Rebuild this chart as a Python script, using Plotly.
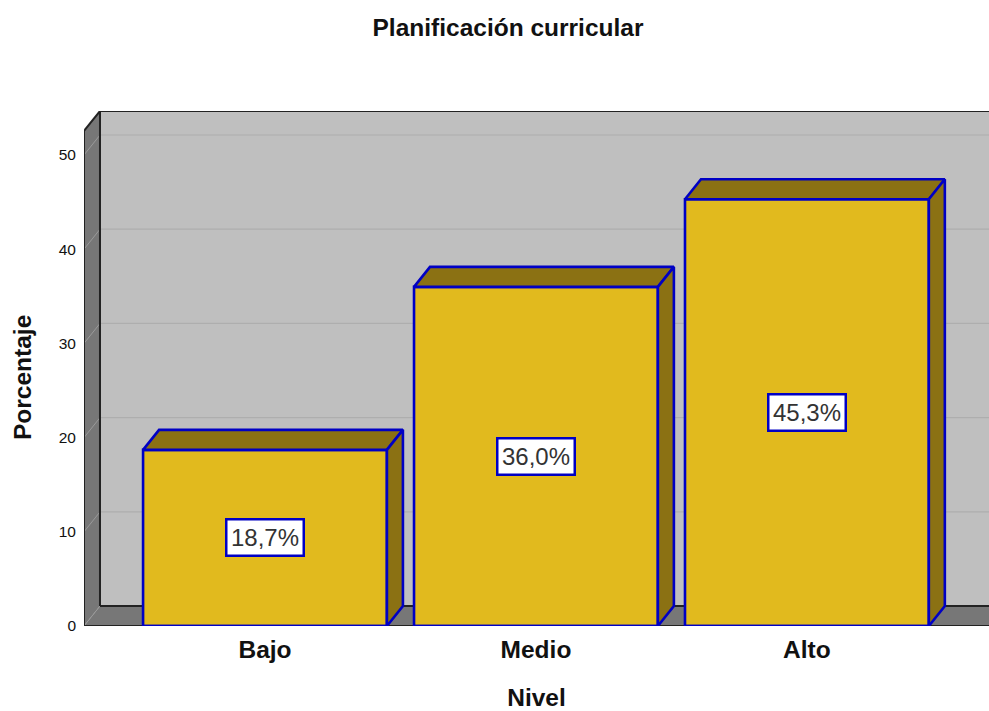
import plotly.graph_objects as go

categories = ["Bajo", "Medio", "Alto"]
values = [18.7, 36.0, 45.3]
labels = ["18,7%", "36,0%", "45,3%"]
y_ticks = [0, 10, 20, 30, 40, 50]

FONT = "Liberation Sans"
BLUE = "#0000C4"
FRONT = "#E1BA1E"
DARK_FACE = "#8B7113"
WALL = "#BFBFBF"
SIDE = "#777777"
EDGE = "#222222"
GRID = "#AEAEAE"

x_pos = list(range(len(categories)))
bar_w = 0.9
dx = 0.059
dy = 2.12
x_min, x_max = -0.668, 2.672
y_max = 54.67
wall_top = y_max
front_top = y_max - dy

fig = go.Figure()

fig.add_trace(go.Bar(x=x_pos, y=values, width=bar_w,
                     marker=dict(color=FRONT, line=dict(color=BLUE, width=2.6)),
                     hoverinfo="skip", cliponaxis=False, showlegend=False))

for x, v in zip(x_pos, values):
    l, r = x - bar_w / 2, x + bar_w / 2
    fig.add_trace(go.Scatter(x=[l, l + dx, r + dx, r, l], y=[v, v + dy, v + dy, v, v],
                             mode="lines", fill="toself", fillcolor=DARK_FACE,
                             line=dict(color=BLUE, width=2.6), hoverinfo="skip",
                             cliponaxis=False, showlegend=False))
    fig.add_trace(go.Scatter(x=[r, r + dx, r + dx, r, r], y=[v, v + dy, dy, 0, v],
                             mode="lines", fill="toself", fillcolor=DARK_FACE,
                             line=dict(color=BLUE, width=2.6), hoverinfo="skip",
                             cliponaxis=False, showlegend=False))
    fig.add_trace(go.Scatter(x=[l, r], y=[0, 0], mode="lines",
                             line=dict(color=BLUE, width=2.6), hoverinfo="skip",
                             cliponaxis=False, showlegend=False))

shapes = [
    dict(type="rect", x0=x_min + dx, x1=x_max, y0=dy, y1=wall_top, layer="below",
         fillcolor=WALL, line=dict(width=0)),
    dict(type="path", layer="below", fillcolor=SIDE, line=dict(width=0),
         path=f"M {x_min} 0 L {x_min + dx} {dy} L {x_min + dx} {wall_top} L {x_min} {front_top} Z"),
    dict(type="path", layer="below", fillcolor=SIDE, line=dict(width=0),
         path=f"M {x_min} 0 L {x_min + dx} {dy} L {x_max} {dy} L {x_max} 0 Z"),
]
for t in y_ticks:
    if t > 0:
        shapes.append(dict(type="line", layer="below", x0=x_min + dx, x1=x_max, y0=t + dy, y1=t + dy,
                           line=dict(color=GRID, width=1.2)))
    shapes.append(dict(type="line", layer="below", x0=x_min, x1=x_min + dx, y0=t, y1=t + dy,
                       line=dict(color="#9A9A9A", width=1)))
edges = [
    (x_min + dx, dy, x_max, dy),
    (x_min + dx, dy, x_min + dx, wall_top),
    (x_min + dx, wall_top, x_max, wall_top),
    (x_min, front_top, x_min + dx, wall_top),
    (x_min, 0, x_min, front_top),
    (x_min, 0, x_max, 0),
]
for x0, y0, x1, y1 in edges:
    shapes.append(dict(type="line", layer="below", x0=x0, x1=x1, y0=y0, y1=y1,
                       line=dict(color=EDGE, width=2)))

annotations = [
    dict(x=x + 0, y=v / 2, text=t, showarrow=False, bgcolor="white", bordercolor=BLUE,
         borderwidth=2.5, borderpad=3.5, font=dict(family=FONT, size=24, color="#333333"))
    for x, v, t in zip(x_pos, values, labels)
]
annotations.append(dict(xref="paper", yref="paper", x=-62 / 905, y=(626 - 378) / 515, text="<b>Porcentaje</b>",
                        textangle=-90, showarrow=False, xanchor="center", yanchor="middle",
                        font=dict(family=FONT, size=24.5, color="#111111")))

fig.update_layout(
    width=989, height=711, autosize=False,
    margin=dict(l=84, r=0, t=111, b=85),
    paper_bgcolor="white", plot_bgcolor="white",
    showlegend=False, shapes=shapes, annotations=annotations,
    title=dict(text="<b>Planificación curricular</b>", x=508 / 989, y=1 - 27 / 711,
               xanchor="center", yanchor="middle", font=dict(family=FONT, size=24.5, color="#111111")),
    xaxis=dict(range=[x_min, x_max], tickmode="array", tickvals=x_pos, ticktext=[f"<b>{c}</b>" for c in categories],
               showgrid=False, zeroline=False, showline=False, ticks="", ticklabelstandoff=6,
               tickfont=dict(family=FONT, size=24.5, color="#111111"),
               title=dict(text="<b>Nivel</b>", standoff=28, font=dict(family=FONT, size=24.5, color="#111111"))),
    yaxis=dict(range=[0, y_max], tickmode="array", tickvals=y_ticks, showgrid=False, zeroline=False,
               showline=False, ticks="", ticklabelstandoff=7, tickfont=dict(family=FONT, size=15.5, color="#111111")),
)

fig.write_html("out.html", config=dict(displayModeBar=False),
               post_script="document.body.style.margin='0';document.documentElement.style.overflow='hidden';")
